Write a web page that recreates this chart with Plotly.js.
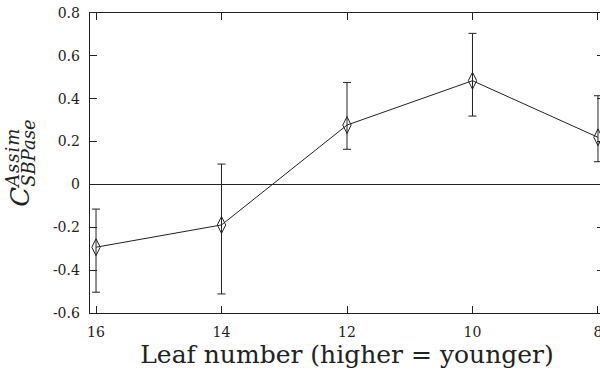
<!DOCTYPE html>
<html>
<head>
<meta charset="utf-8">
<script src="https://cdn.plot.ly/plotly-3.0.1.min.js"></script>
<style>
html, body { margin:0; padding:0; width:600px; height:375px; overflow:hidden; background:#fff; }
#chart { width:604px; height:375px; }
</style>
</head>
<body>
<div id="chart"></div>
<script>
// Data
const leafNumber = [16, 14, 12, 10, 8];
const coefficient = [-0.293, -0.189, 0.277, 0.484, 0.220];
const errUpper = [0.178, 0.284, 0.199, 0.221, 0.194];
const errLower = [0.210, 0.322, 0.113, 0.165, 0.114];
const xTickVals = [16, 14, 12, 10, 8];
const xTickText = ['16', '14', '12', '10', '8'];
const yTickVals = [-0.6, -0.4, -0.2, 0, 0.2, 0.4, 0.6, 0.8];
const yTickText = ['-0.6', '-0.4', '-0.2', '0', '0.2', '0.4', '0.6', '0.8'];
const supText = 'Assim';
const subText = 'SBPase';

const serif = 'DejaVu Serif, Liberation Serif, serif';
const ink = '#222';

// --- build the stacked label C^Assim_SBPase (measure text to stack sup over sub)
const scriptSize = 18;
const scriptLen = 58;
const ctx = document.createElement('canvas').getContext('2d');
ctx.font = 'italic ' + scriptSize + 'px "DejaVu Serif", "Liberation Serif", serif';
const wSup = ctx.measureText(supText).width;
const wSub = ctx.measureText(subText).width;
const lsSup = Math.max(0, (scriptLen - wSup) / (supText.length - 1));
const lsSub = Math.max(0, (scriptLen - wSub) / (subText.length - 1));
const backShift = -(wSup + lsSup * (supText.length - 1));
const yTitle = '<i>C</i>' +
  '<sup><span style="font-size:' + scriptSize + 'px;letter-spacing:' + lsSup.toFixed(2) + 'px"><i>' +
  supText.slice(0, -1) + '</i></span>' +
  '<span style="font-size:' + scriptSize + 'px;letter-spacing:' + backShift.toFixed(2) + 'px"><i>' +
  supText.slice(-1) + '</i></span></sup>' +
  '<sub><span style="font-size:' + scriptSize + 'px;letter-spacing:' + lsSub.toFixed(2) + 'px"><i>' +
  subText.slice(0, -1) + '</i></span>' +
  '<span style="font-size:' + scriptSize + 'px"><i>' + subText.slice(-1) + '</i></span></sub>';

const trace = {
  x: leafNumber,
  y: coefficient,
  type: 'scatter',
  mode: 'lines+markers',
  line: { color: ink, width: 1 },
  marker: { symbol: 'diamond-tall-open', size: 12, color: ink, line: { width: 1, color: ink } },
  error_y: {
    type: 'data', symmetric: false,
    array: errUpper, arrayminus: errLower,
    color: ink, thickness: 1, width: 4
  },
  showlegend: false,
  cliponaxis: false
};

const layout = {
  width: 604, height: 375,
  margin: { l: 90, r: 0, t: 13, b: 62 },
  paper_bgcolor: '#fff', plot_bgcolor: '#fff',
  font: { family: serif, color: ink, size: 14 },
  xaxis: {
    range: [16.096, 7.904],
    tickvals: xTickVals, ticktext: xTickText,
    ticks: 'inside', ticklen: 7, tickwidth: 1, tickcolor: ink,
    showline: true, linecolor: ink, linewidth: 1.3, mirror: 'ticks',
    showgrid: false, zeroline: false,
    tickfont: { family: serif, size: 14, color: ink },
    ticklabelstandoff: 6,
    title: { text: 'Leaf number (higher = younger)', font: { family: serif, size: 25, color: ink }, standoff: 6 },
    automargin: false
  },
  yaxis: {
    range: [-0.6, 0.8],
    tickvals: yTickVals, ticktext: yTickText,
    ticks: 'inside', ticklen: 7, tickwidth: 1, tickcolor: ink,
    showline: true, linecolor: ink, linewidth: 1.3, mirror: 'ticks',
    showgrid: false,
    zeroline: true, zerolinecolor: ink, zerolinewidth: 1,
    tickfont: { family: serif, size: 14, color: ink },
    ticklabelstandoff: 6,
    title: { text: yTitle, font: { family: serif, size: 26, color: ink }, standoff: 15 },
    automargin: false
  }
};

Plotly.newPlot('chart', [trace], layout, { displayModeBar: false, staticPlot: true });
</script>
</body>
</html>
